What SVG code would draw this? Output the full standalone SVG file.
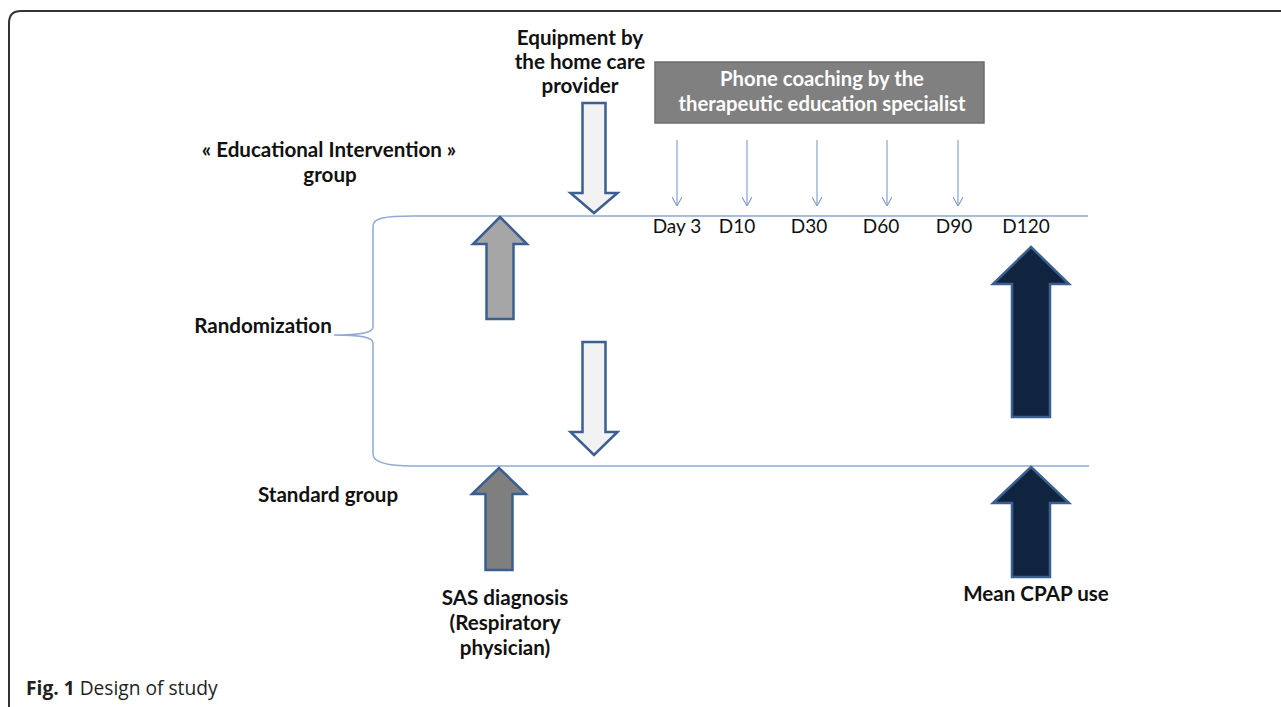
<svg xmlns="http://www.w3.org/2000/svg" width="1281" height="707" viewBox="0 0 1281 707">
<defs>
<style>
.t{font-family:Lato,"Liberation Sans",sans-serif;font-weight:bold;font-size:20.6px;fill:#111;text-anchor:middle}
.d{font-family:Lato,"Liberation Sans",sans-serif;font-size:19px;fill:#111;text-anchor:middle}
.w{font-family:Lato,"Liberation Sans",sans-serif;font-weight:bold;font-size:20.3px;fill:#fff;text-anchor:middle}
.cap{font-family:"Open Sans","Noto Sans",sans-serif;font-size:19.2px;fill:#231f20}
.ln{fill:none;stroke:#8eaad6;stroke-width:1.5}
.thin{fill:none;stroke:#86a2d2;stroke-width:1.2}
.big{stroke:#3a5f90;stroke-width:2.5;stroke-linejoin:miter}
</style>
<marker id="ah" viewBox="0 0 10 10" refX="10" refY="5" markerWidth="10" markerHeight="10" markerUnits="userSpaceOnUse" orient="auto">
<path d="M1 0 L10 5 L1 10" fill="none" stroke="#86a2d2" stroke-width="1.2"/>
</marker>
</defs>
<rect x="0" y="0" width="1281" height="707" fill="#fff"/>
<path d="M9 707 L9 23 Q9 11 21 11 L1281 11" fill="none" stroke="#333" stroke-width="2"/>

<g id="connectors">
<path class="ln" d="M413 216 C385 216 373 218 373 226 L373 327 C373 333 360 335 334 335 C360 335 373 337 373 343 L373 454 C373 462 385 466 413 466"/>
<line class="ln" x1="413" y1="216" x2="1088" y2="216"/>
<line class="ln" x1="413" y1="466" x2="1089" y2="466"/>
<line class="thin" x1="677" y1="140" x2="677" y2="206" marker-end="url(#ah)"/>
<line class="thin" x1="747" y1="140" x2="747" y2="206" marker-end="url(#ah)"/>
<line class="thin" x1="817" y1="140" x2="817" y2="206" marker-end="url(#ah)"/>
<line class="thin" x1="887" y1="140" x2="887" y2="206" marker-end="url(#ah)"/>
<line class="thin" x1="958" y1="140" x2="958" y2="206" marker-end="url(#ah)"/>
</g>

<g id="equipment">
<text class="t" x="580" y="45">Equipment by</text>
<text class="t" x="580" y="69">the home care</text>
<text class="t" x="580" y="93">provider</text>
<polygon class="big" fill="#f2f2f2" points="582.5,103 605.5,103 605.5,193 617.5,193 594,213 570.5,193 582.5,193"/>
</g>

<g id="phone">
<rect x="655" y="62" width="329" height="61" fill="#808080" stroke="#6d6d6d" stroke-width="1.5"/>
<text class="w" x="822" y="86">Phone coaching by the</text>
<text class="w" x="822" y="111">therapeutic education specialist</text>
</g>

<g id="edu-group">
<text class="t" x="329" y="157">« Educational Intervention »</text>
<text class="t" x="330" y="182">group</text>
</g>

<g id="days">
<text class="d" x="677" y="233">Day 3</text>
<text class="d" x="737" y="233">D10</text>
<text class="d" x="809" y="233">D30</text>
<text class="d" x="881" y="233">D60</text>
<text class="d" x="954" y="233">D90</text>
<text class="d" x="1026" y="233">D120</text>
</g>

<g id="randomization">
<text class="t" x="263" y="333">Randomization</text>
</g>

<g id="standard-group">
<text class="t" x="328" y="502">Standard group</text>
</g>

<g id="sas-up-edu">
<polygon class="big" fill="#a6a6a6" points="500,217 527,244 513.5,244 513.5,319 486.5,319 486.5,244 473,244"/>
</g>

<g id="equip-down-std">
<polygon class="big" fill="#f2f2f2" points="582.5,342 605.5,342 605.5,432 617.5,432 594,455 570.5,432 582.5,432"/>
</g>

<g id="sas-up-std">
<polygon class="big" fill="#7f7f7f" points="499,468 526,494 512.5,494 512.5,570 485.5,570 485.5,494 472,494"/>
</g>

<g id="sas-label">
<text class="t" x="505" y="605">SAS diagnosis</text>
<text class="t" x="505" y="630">(Respiratory</text>
<text class="t" x="505" y="655">physician)</text>
</g>

<g id="cpap-up-edu">
<polygon class="big" fill="#10233f" stroke="#2f5080" points="1031,247 1069,284 1050,284 1050,417 1012,417 1012,284 993,284"/>
</g>

<g id="cpap-up-std">
<polygon class="big" fill="#10233f" stroke="#2f5080" points="1031,467 1069,503 1050,503 1050,577 1012,577 1012,503 993,503"/>
</g>

<g id="cpap-label">
<text class="t" x="1036" y="601">Mean CPAP use</text>
</g>

<g id="caption">
<text class="cap" x="26" y="695"><tspan font-weight="bold">Fig. 1</tspan> Design of study</text>
</g>
</svg>
